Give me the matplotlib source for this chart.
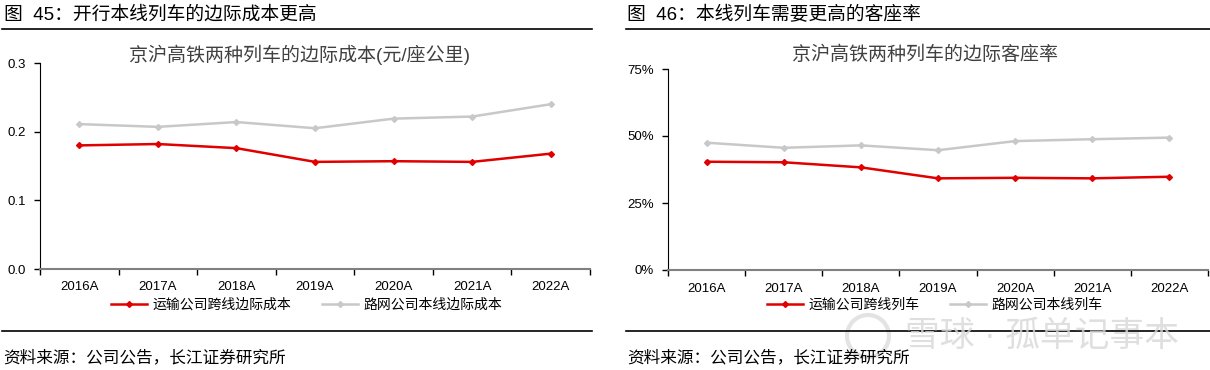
import matplotlib.pyplot as plt
from matplotlib.lines import Line2D
from matplotlib.patches import Circle
import numpy as np

plt.rcParams['font.family'] = ['Liberation Sans', 'Noto Sans CJK SC', 'DejaVu Sans']

# data
years = ["2016A", "2017A", "2018A", "2019A", "2020A", "2021A", "2022A"]
cost_cross = [0.180, 0.182, 0.176, 0.156, 0.157, 0.156, 0.168]
cost_own = [0.211, 0.207, 0.214, 0.205, 0.219, 0.222, 0.240]
seat_cross = [0.404, 0.402, 0.383, 0.342, 0.344, 0.342, 0.348]
seat_own = [0.475, 0.456, 0.465, 0.447, 0.481, 0.488, 0.494]

RED = "#E00000"
GREY = "#C8C8C8"
W, H = 1210, 370

fig = plt.figure(figsize=(W / 100, H / 100), dpi=100)


def px_axes(x0, y0, x1, y1):
    # pixel box (top-left origin) -> figure axes
    return fig.add_axes([x0 / W, 1 - y1 / H, (x1 - x0) / W, (y1 - y0) / H])


def hline(x0, x1, y):
    fig.add_artist(Line2D([x0 / W, x1 / W], [1 - y / H, 1 - y / H], color="black", lw=1.2))


def panel(box, s1, s2, names, yticks, ylabels, title, title_x, leg_x):
    ax = px_axes(*box)
    x = np.arange(len(years))
    ax.plot(x, s1, color=RED, lw=1.8, marker="D", ms=3, label=names[0])
    ax.plot(x, s2, color=GREY, lw=1.8, marker="D", ms=3, label=names[1])
    ax.set_xlim(-0.5, len(years) - 0.5)
    ax.set_ylim(yticks[0], yticks[-1])
    ax.set_yticks(yticks)
    ax.set_yticklabels(ylabels, fontsize=9.5)
    ax.set_xticks(x)
    ax.set_xticklabels(years, fontsize=9.5)
    ax.set_xticks(np.arange(-0.5, len(years)), minor=True)
    ax.tick_params(axis="x", which="major", length=0, pad=9)
    ax.tick_params(axis="x", which="minor", length=4, direction="out", width=1)
    ax.tick_params(axis="y", length=4, width=1, pad=6)
    for s in ["top", "right"]:
        ax.spines[s].set_visible(False)
    ax.spines["left"].set_color("black")
    ax.spines["bottom"].set_color("#808080")
    ax.spines["bottom"].set_linewidth(1.5)
    fig.text(title_x / W, 1 - 55 / H, title, ha="center", va="center",
             fontsize=13.7, color="#404040")
    fig.legend(handles=ax.get_lines(), loc="center", ncol=2, frameon=False,
               bbox_to_anchor=(leg_x / W, 1 - 305 / H), fontsize=10,
               handlelength=2.6, columnspacing=2.2, handletextpad=0.4)
    return ax


panel((40, 63, 590, 269), cost_cross, cost_own,
      ["运输公司跨线边际成本", "路网公司本线边际成本"],
      [0.0, 0.1, 0.2, 0.3], ["0.0", "0.1", "0.2", "0.3"],
      "京沪高铁两种列车的边际成本(元/座公里)", 300, 307)

panel((668, 69, 1208, 270), seat_cross, seat_own,
      ["运输公司跨线列车", "路网公司本线列车"],
      [0.0, 0.25, 0.5, 0.75], ["0%", "25%", "50%", "75%"],
      "京沪高铁两种列车的边际客座率", 925, 935)

# headers and source lines
fig.text(4 / W, 1 - 15 / H, "图  45：开行本线列车的边际成本更高", fontsize=13.5, va="center")
fig.text(627 / W, 1 - 15 / H, "图  46：本线列车需要更高的客座率", fontsize=13.5, va="center")
hline(2, 592, 28.5)
hline(626, 1210, 28.5)
hline(2, 592, 330.5)
hline(626, 1210, 330.5)
fig.text(3 / W, 1 - 357 / H, "资料来源：公司公告，长江证券研究所", fontsize=12, va="center")
fig.text(627 / W, 1 - 357 / H, "资料来源：公司公告，长江证券研究所", fontsize=12, va="center")

# watermark (logo ring + text)
fig.add_artist(Circle((868, H - 336), 21, transform=None, fill=False,
                      ec="#DCDCDC", lw=3, alpha=0.8))
fig.text(1042 / W, 1 - 336 / H, "雪球 · 孤单记事本", fontsize=25, va="center", ha="center",
         color="#D8D8D8", alpha=0.8)

fig.savefig("out.png", dpi=100)
